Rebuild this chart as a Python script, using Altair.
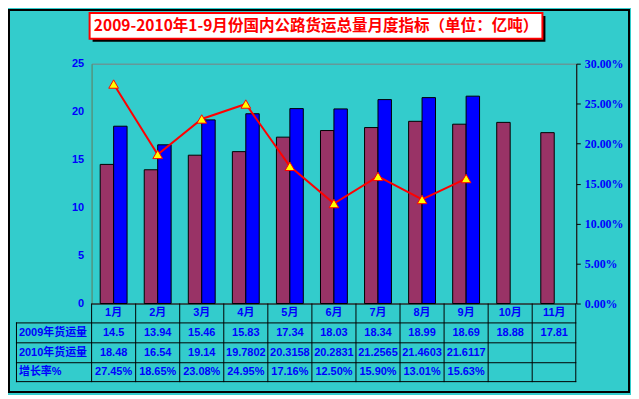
import altair as alt
import pandas as pd

months = ['1月', '2月', '3月', '4月', '5月', '6月', '7月', '8月', '9月', '10月', '11月']
v2009 = [14.5, 13.94, 15.46, 15.83, 17.34, 18.03, 18.34, 18.99, 18.69, 18.88, 17.81]
v2010 = [18.48, 16.54, 19.14, 19.7802, 20.3158, 20.2831, 21.2565, 21.4603, 21.6117]
growth = [27.45, 18.65, 23.08, 24.95, 17.16, 12.50, 15.90, 13.01, 15.63]
row_labels = ['2009年货运量', '2010年货运量', '增长率%']
title_text = '2009-2010年1-9月份国内公路货运总量月度指标（单位：亿吨）'

TEAL = '#33CCCC'
BLUE = '#0000FF'
MAROON = '#993366'
SANS = 'Liberation Sans, Noto Sans CJK SC'
CJK = 'Noto Sans CJK SC'

W, H = 487, 241
STEP = W / len(months)

bars_df = pd.DataFrame(
    [{'month': m, 'series': '2009', 'value': v} for m, v in zip(months, v2009)]
    + [{'month': m, 'series': '2010', 'value': v} for m, v in zip(months, v2010)]
)
line_df = pd.DataFrame({'month': months[:len(growth)], 'rate': [g / 100 for g in growth]})

t2009 = pd.DataFrame({'month': months, 'label': [str(v) for v in v2009]})
t2010 = pd.DataFrame({'month': months[:len(v2010)], 'label': [str(v) for v in v2010]})
tgrowth = pd.DataFrame({'month': months[:len(growth)], 'label': [f'{g:.2f}%' for g in growth]})
thead = pd.DataFrame({'month': months})
one = pd.DataFrame({'a': [0]})

xscale = alt.Scale(domain=months, paddingInner=0.39, paddingOuter=0.195)
X = alt.X('month:N', scale=xscale, axis=None, sort=months)


def rect(x1, x2, y1, y2, **kw):
    return alt.Chart(one).mark_rect(**kw).encode(
        x=alt.value(x1), x2=alt.value(x2), y=alt.value(y1), y2=alt.value(y2))


def hrule(y, x1, x2, color='black', width=1):
    return alt.Chart(one).mark_rule(color=color, strokeWidth=width).encode(
        x=alt.value(x1), x2=alt.value(x2), y=alt.value(y))


def vrule(x, y1, y2, color='black', width=1):
    return alt.Chart(one).mark_rule(color=color, strokeWidth=width).encode(
        x=alt.value(x), y=alt.value(y1), y2=alt.value(y2))


border = rect(-83, 540, -54, 330, fill=TEAL, fillOpacity=0, stroke='black', strokeWidth=2)
title_shadow = rect(1, 456, -48, -22, fill='black')
title_box = rect(-2, 453, -51, -25, fill='white', stroke='red', strokeWidth=2)
title = alt.Chart(one).mark_text(
    font=CJK, fontSize=15.6, fontWeight='bold', color='red', align='center', baseline='middle'
).encode(x=alt.value(225.5), y=alt.value(-38), text=alt.value(title_text))

bars = alt.Chart(bars_df).mark_bar(stroke='black', strokeWidth=1).encode(
    x=X,
    xOffset=alt.XOffset('series:N', scale=alt.Scale(domain=['2009', '2010'], paddingInner=0)),
    y=alt.Y('value:Q', scale=alt.Scale(domain=[0, 25]), title=None,
            axis=alt.Axis(orient='left', values=[0, 5, 10, 15, 20, 25], grid=False, ticks=False,
                          domainColor='#3f9f7f', labelPadding=8, labelColor=BLUE,
                          labelFont=SANS, labelFontSize=11, labelFontWeight='bold')),
    color=alt.Color('series:N', scale=alt.Scale(domain=['2009', '2010'], range=[MAROON, BLUE]),
                    legend=None),
)

line = alt.Chart(line_df).mark_line(
    color='red', strokeWidth=2,
    point=alt.OverlayMarkDef(shape='triangle-up', filled=True, fill='yellow', stroke='red',
                             strokeWidth=1, size=95, opacity=1)
).encode(
    x=X,
    y=alt.Y('rate:Q', scale=alt.Scale(domain=[0, 0.30]), title=None,
            axis=alt.Axis(orient='right', values=[0, 0.05, 0.10, 0.15, 0.20, 0.25, 0.30],
                          format='.2%', grid=False, domainColor='black', tickColor='black',
                          tickSize=4, labelPadding=4, labelColor=BLUE,
                          labelFont='Liberation Serif', labelFontSize=12, labelFontWeight='bold')),
)

# table
ROW_Y = [241.5, 260.5, 280.5, 300.5, 319.5]
table_layers = [hrule(ROW_Y[0], 0, W)]
for y in ROW_Y[1:]:
    table_layers.append(hrule(y, -76, W))
table_layers.append(vrule(-75.5, 260, 320))
table_layers.append(
    alt.Chart(thead).mark_rule(color='black', strokeWidth=1, xOffset=-STEP / 2).encode(
        x=X, y=alt.value(241), y2=alt.value(320)))
table_layers.append(vrule(W - 0.5, 241, 320))

txt = dict(font=SANS, fontSize=11, fontWeight='bold', color=BLUE, baseline='middle', align='center')
table_layers.append(alt.Chart(thead).mark_text(**txt).encode(x=X, y=alt.value(250.5), text='month:N'))
for df, yc in [(t2009, 270.5), (t2010, 290.5), (tgrowth, 310)]:
    table_layers.append(alt.Chart(df).mark_text(**txt).encode(x=X, y=alt.value(yc), text='label:N'))
for lab, yc in zip(row_labels, [270.5, 290.5, 310]):
    table_layers.append(
        alt.Chart(one).mark_text(font=SANS, fontSize=11, fontWeight='bold', color=BLUE,
                                 baseline='middle', align='left').encode(
            x=alt.value(-73), y=alt.value(yc), text=alt.value(lab)))

chart = alt.layer(
    border, title_shadow, title_box, title, bars, line, *table_layers
).resolve_scale(
    y='independent'
).properties(
    width=W, height=H,
    padding={'left': 84, 'top': 55, 'right': 55, 'bottom': 91},
    autosize=alt.AutoSizeParams(type='none'),
    background=TEAL,
).configure_view(stroke='#808080', strokeWidth=1)

chart.save('out.html', embed_options={'renderer': 'svg', 'actions': False})
